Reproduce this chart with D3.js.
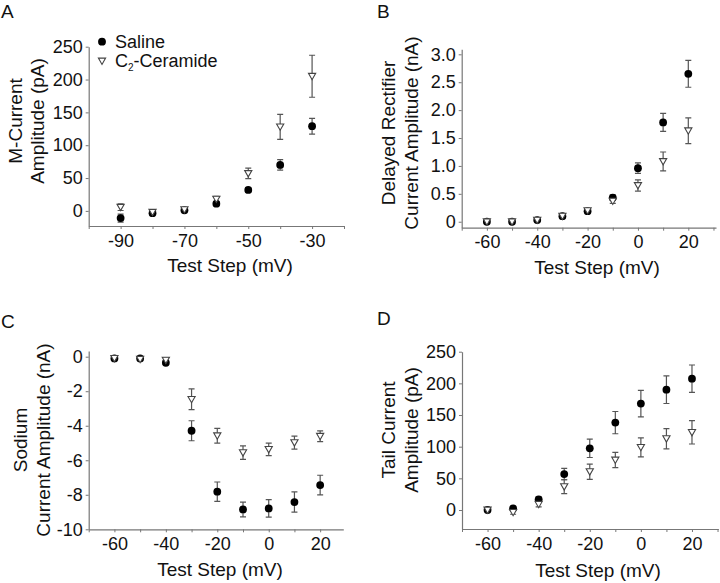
<!DOCTYPE html>
<html>
<head>
<meta charset="utf-8">
<script src="https://cdn.jsdelivr.net/npm/d3@7"></script>
<style>
  body { margin: 0; background: #fff; }
  svg { font-family: "Liberation Sans", Arial, sans-serif; }
</style>
</head>
<body>
<div id="vis"></div>
<script>
// panel A: M-current
var stepsA = [-90, -80, -70, -60, -50, -40, -30];
var salineA = [-11, -3.5, 1, 11, 32, 70, 129];
var salineErrA = [6, 3, 2, 3, 3, 8, 12];
var ceramideA = [5.6, -2, 2, 18, 57, 128, 205];
var ceramideErrA = [5, 3, 2, 4, 8, 19, 32];

// panels B, C, D share the same voltage steps
var stepsBCD = [-60, -50, -40, -30, -20, -10, 0, 10, 20];

var salineB = [0, 0, 0.03, 0.1, 0.19, 0.43, 0.96, 1.78, 2.65];
var salineErrB = [0.02, 0.02, 0.02, 0.03, 0.03, 0.05, 0.095, 0.16, 0.24];
var ceramideB = [0, 0, 0.03, 0.1, 0.2, 0.37, 0.65, 1.08, 1.63];
var ceramideErrB = [0.02, 0.02, 0.02, 0.03, 0.03, 0.04, 0.1, 0.17, 0.23];

var salineC = [-0.1, -0.1, -0.35, -4.29, -7.82, -8.85, -8.79, -8.42, -7.44];
var salineErrC = [0.05, 0.05, 0.1, 0.58, 0.56, 0.43, 0.51, 0.59, 0.57];
var ceramideC = [-0.1, -0.15, -0.2, -2.47, -4.58, -5.56, -5.37, -4.98, -4.61];
var ceramideErrC = [0.05, 0.05, 0.15, 0.6, 0.43, 0.39, 0.36, 0.38, 0.31];

var salineD = [0, 2.6, 16.8, 56.8, 97.4, 138, 168, 190, 207.4];
var salineErrD = [2, 3, 4, 9, 14.5, 17.6, 21, 21.8, 21.6];
var ceramideD = [0, -3.7, 9, 36.8, 60.5, 79, 99, 112.6, 122.6];
var ceramideErrD = [2, 3, 4, 11, 12, 12, 15, 16, 18.4];

// tick labels
var xTicksA = [-90, -70, -50, -30];
var xTicksBCD = [-60, -40, -20, 0, 20];
var yTicksA = [0, 50, 100, 150, 200, 250];
var yTicksB = [0, 0.5, 1.0, 1.5, 2.0, 2.5, 3.0];
var yTicksC = [0, -2, -4, -6, -8, -10];
var yTicksD = [0, 50, 100, 150, 200, 250];

var legendLabels = ['Saline', 'C', '2', '-Ceramide'];

var svg = d3.select('#vis')
    .append('svg')
    .attr('width', 720)
    .attr('height', 583);

var axisColour = '#777';
var barColour = '#555';

function triangle(s) {
    return 'M' + (-s) + ',' + (-s * 0.8) + 'L' + s + ',' + (-s * 0.8) + 'L0,' + (s * 0.95) + 'Z';
}

function drawPanel(p) {
    var x = d3.scaleLinear().domain(p.xDomain).range([p.left, p.right]);
    var y = d3.scaleLinear().domain(p.yDomain).range([p.bottom, p.top]);

    var minor = d3.range(Math.ceil(p.xDomain[0] / 10) * 10, p.xDomain[1] + 0.5, 10);

    var xAxis = d3.axisBottom(x)
        .tickValues(minor)
        .tickSize(3)
        .tickSizeOuter(0)
        .tickPadding(5)
        .tickFormat(function(d) { return p.xLabels.indexOf(d) >= 0 ? String(d) : ''; });

    var yAxis = d3.axisLeft(y)
        .tickValues(p.yLabels)
        .tickSize(3)
        .tickSizeOuter(0)
        .tickPadding(3)
        .tickFormat(p.yFormat);

    var gx = svg.append('g')
        .attr('transform', 'translate(0,' + p.bottom + ')')
        .call(xAxis);
    var gy = svg.append('g')
        .attr('transform', 'translate(' + p.left + ',0)')
        .call(yAxis);

    [gx, gy].forEach(function(g) {
        g.select('.domain').attr('stroke', axisColour).attr('stroke-width', 1.2);
        g.selectAll('.tick line').attr('stroke', axisColour);
        g.selectAll('.tick text')
            .attr('fill', '#111')
            .style('font-size', '18px');
    });

    // error bars
    var series = [
        { vals: p.saline, errs: p.salineErr, kind: 'circle' },
        { vals: p.ceramide, errs: p.ceramideErr, kind: 'tri' }
    ];

    series.forEach(function(s) {
        var rows = p.steps.map(function(v, i) {
            return { step: v, val: s.vals[i], err: s.errs[i] };
        });
        var eb = svg.append('g')
            .attr('stroke', barColour)
            .attr('stroke-width', 1.2)
            .attr('fill', 'none');
        eb.selectAll('path')
            .data(rows)
            .enter()
            .append('path')
            .attr('d', function(d) {
                var cx = x(d.step);
                var y1 = y(d.val + d.err);
                var y2 = y(d.val - d.err);
                return 'M' + (cx - 3) + ',' + y1 + 'H' + (cx + 3) +
                    'M' + cx + ',' + y1 + 'V' + y2 +
                    'M' + (cx - 3) + ',' + y2 + 'H' + (cx + 3);
            });
    });

    series.forEach(function(s) {
        var rows = p.steps.map(function(v, i) {
            return { step: v, val: s.vals[i] };
        });
        var g = svg.append('g');
        if (s.kind === 'circle') {
            g.selectAll('circle')
                .data(rows)
                .enter()
                .append('circle')
                .attr('cx', function(d) { return x(d.step); })
                .attr('cy', function(d) { return y(d.val); })
                .attr('r', 3.9)
                .attr('fill', '#000');
        } else {
            g.selectAll('path')
                .data(rows)
                .enter()
                .append('path')
                .attr('transform', function(d) {
                    return 'translate(' + x(d.step) + ',' + y(d.val) + ')';
                })
                .attr('d', triangle(3.6))
                .attr('fill', '#fff')
                .attr('stroke', '#444')
                .attr('stroke-width', 1.1);
        }
    });

    // titles
    svg.append('text')
        .attr('x', p.xTitle[0])
        .attr('y', p.xTitle[1])
        .attr('text-anchor', 'middle')
        .style('font-size', '19px')
        .attr('fill', '#111')
        .text('Test Step (mV)');

    p.yTitle.lines.forEach(function(line, i) {
        svg.append('text')
            .attr('transform', 'translate(' + p.yTitle.x[i] + ',' + p.yTitle.cy + ') rotate(-90)')
            .attr('text-anchor', 'middle')
            .style('font-size', '19px')
            .attr('fill', '#111')
            .text(line);
    });

    svg.append('text')
        .attr('x', p.letter[1])
        .attr('y', p.letter[2])
        .style('font-size', '19px')
        .attr('fill', '#111')
        .text(p.letter[0]);
}

var fmtInt = function(d) { return String(d); };

drawPanel({
    steps: stepsA, saline: salineA, salineErr: salineErrA,
    ceramide: ceramideA, ceramideErr: ceramideErrA,
    xDomain: [-100, -20], yDomain: [-23, 250],
    left: 88.7, right: 344, top: 46.7, bottom: 226,
    xLabels: xTicksA, yLabels: yTicksA, yFormat: fmtInt,
    xTitle: [230, 272],
    yTitle: { lines: ['M-Current', 'Amplitude (pA)'], x: [21.5, 43.5], cy: 121 },
    letter: ['A', 1, 18]
});

drawPanel({
    steps: stepsBCD, saline: salineB, salineErr: salineErrB,
    ceramide: ceramideB, ceramideErr: ceramideErrB,
    xDomain: [-70, 31], yDomain: [-0.107, 3.09],
    left: 461.7, right: 716, top: 49.3, bottom: 227.7,
    xLabels: xTicksBCD, yLabels: yTicksB,
    yFormat: function(d) { return d === 0 ? '0' : d.toFixed(1); },
    xTitle: [597, 274],
    yTitle: { lines: ['Delayed Rectifier', 'Current Amplitude (nA)'], x: [395, 418], cy: 133 },
    letter: ['B', 377, 18]
});

drawPanel({
    steps: stepsBCD, saline: salineC, salineErr: salineErrC,
    ceramide: ceramideC, ceramideErr: ceramideErrC,
    xDomain: [-70, 29], yDomain: [-10, 0.33],
    left: 88.7, right: 343.3, top: 351, bottom: 529.3,
    xLabels: xTicksBCD, yLabels: yTicksC, yFormat: fmtInt,
    xTitle: [220, 576],
    yTitle: { lines: ['Sodium', 'Current Amplitude (nA)'], x: [26.5, 49.5], cy: 440 },
    letter: ['C', 1, 328]
});

drawPanel({
    steps: stepsBCD, saline: salineD, salineErr: salineErrD,
    ceramide: ceramideD, ceramideErr: ceramideErrD,
    xDomain: [-70, 30.3], yDomain: [-30, 250],
    left: 462, right: 718.3, top: 351.7, bottom: 529,
    xLabels: xTicksBCD, yLabels: yTicksD, yFormat: fmtInt,
    xTitle: [598, 577],
    yTitle: { lines: ['Tail Current', 'Amplitude (pA)'], x: [395, 418], cy: 430 },
    letter: ['D', 377, 325]
});

// legend in panel A
var legend = svg.append('g');
legend.append('circle')
    .attr('cx', 102).attr('cy', 41.7).attr('r', 3.9)
    .attr('fill', '#000');
legend.append('path')
    .attr('transform', 'translate(102,61)')
    .attr('d', triangle(3.6))
    .attr('fill', '#fff')
    .attr('stroke', '#444')
    .attr('stroke-width', 1.1);
legend.append('text')
    .attr('x', 115).attr('y', 48.3)
    .style('font-size', '18px')
    .attr('fill', '#111')
    .text(legendLabels[0]);
var t2 = legend.append('text')
    .attr('x', 115).attr('y', 67.3)
    .style('font-size', '18px')
    .attr('fill', '#111');
t2.append('tspan').text(legendLabels[1]);
t2.append('tspan').attr('dy', 4).style('font-size', '10px').text(legendLabels[2]);
t2.append('tspan').attr('dy', -4).text(legendLabels[3]);
</script>
</body>
</html>
